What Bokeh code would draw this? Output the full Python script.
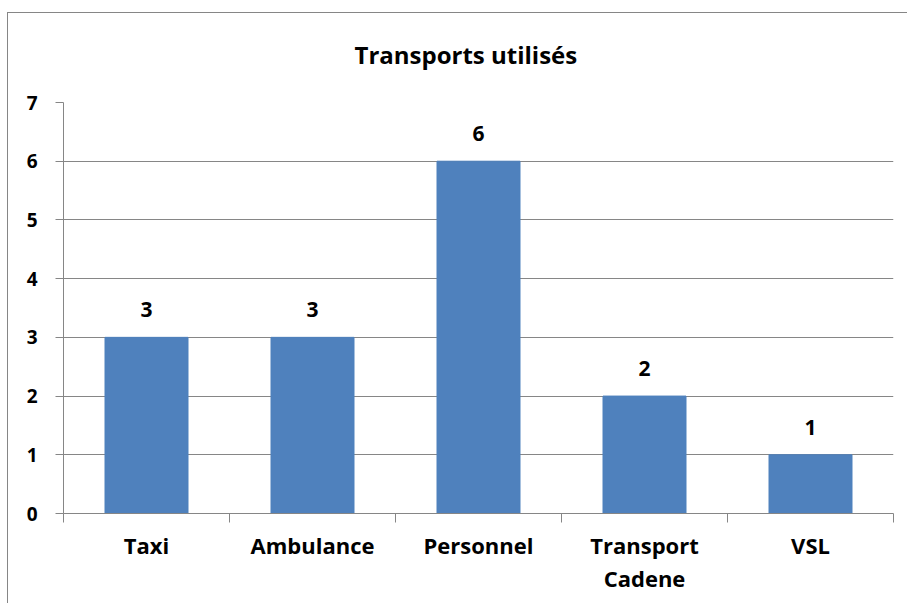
from bokeh.plotting import figure
from bokeh.models import FixedTicker, ColumnDataSource, LabelSet, Range1d
from bokeh.core.properties import value
from bokeh.embed import file_html
from bokeh.resources import INLINE

categories = ["Taxi", "Ambulance", "Personnel", "Transport\nCadene", "VSL"]
values = [3, 3, 6, 2, 1]
y_ticks = [0, 1, 2, 3, 4, 5, 6, 7]

FONT = "Open Sans"
BAR = "#4F81BD"
GRID = "#868686"

n = len(categories)
centers = [i + 0.5 for i in range(n)]
bounds = [i for i in range(n + 1)]

p = figure(width=900, height=601, output_backend="svg", toolbar_location=None,
           x_range=Range1d(0, n), y_range=Range1d(0, 7),
           min_border_left=56, min_border_right=14, min_border_top=100, min_border_bottom=90)
p.border_fill_color = None
p.background_fill_color = "white"
p.styles = {
    "margin-left": "7px",
    "margin-top": "2px",
    "background": ("linear-gradient(#868686,#868686) 0 10px / 100% 1px no-repeat, "
                   "linear-gradient(#868686,#868686) 0 10px / 1px 100% no-repeat, white"),
}

src = ColumnDataSource(dict(x=centers, top=values, lab=[str(v) for v in values]))
p.vbar(x="x", top="top", bottom=0, width=0.5, color=BAR, source=src)

labels = LabelSet(x="x", y="top", text="lab", source=src, text_align="center",
                  text_baseline="alphabetic", y_offset=20, text_font=value(FONT),
                  text_font_style="bold", text_font_size="21px", text_color="black")
p.add_layout(labels)

p.title.text = "Transports utilisés"
p.title.align = "left"
p.title.offset = 291
p.title.standoff = 64
p.title.text_font = FONT
p.title.text_font_style = "bold"
p.title.text_font_size = "24px"
p.title.text_color = "black"

p.outline_line_color = None
p.xgrid.grid_line_color = None
p.ygrid.grid_line_color = GRID
p.ygrid.grid_line_width = 1
p.ygrid.ticker = FixedTicker(ticks=y_ticks)

p.yaxis.ticker = FixedTicker(ticks=y_ticks)
p.yaxis.axis_line_color = GRID
p.yaxis.major_tick_line_color = GRID
p.yaxis.major_tick_out = 8
p.yaxis.major_tick_in = 0
p.yaxis.minor_tick_line_color = None
p.yaxis.major_label_standoff = 18
p.yaxis.major_label_text_font = FONT
p.yaxis.major_label_text_font_style = "bold"
p.yaxis.major_label_text_font_size = "19px"
p.yaxis.major_label_text_color = "black"

p.xaxis.ticker = FixedTicker(ticks=centers, minor_ticks=bounds)
p.xaxis.major_label_overrides = {c: lab for c, lab in zip(centers, categories)}
p.xaxis.axis_line_color = GRID
p.xaxis.major_tick_line_color = None
p.xaxis.major_tick_out = 0
p.xaxis.major_tick_in = 0
p.xaxis.minor_tick_line_color = GRID
p.xaxis.minor_tick_out = 9
p.xaxis.minor_tick_in = 0
p.xaxis.major_label_standoff = 7
p.xaxis.major_label_text_font = FONT
p.xaxis.major_label_text_font_style = "bold"
p.xaxis.major_label_text_font_size = "22px"
p.xaxis.major_label_text_color = "black"
p.xaxis.major_label_text_line_height = 1.1

open("out.html", "w").write(file_html(p, INLINE))
